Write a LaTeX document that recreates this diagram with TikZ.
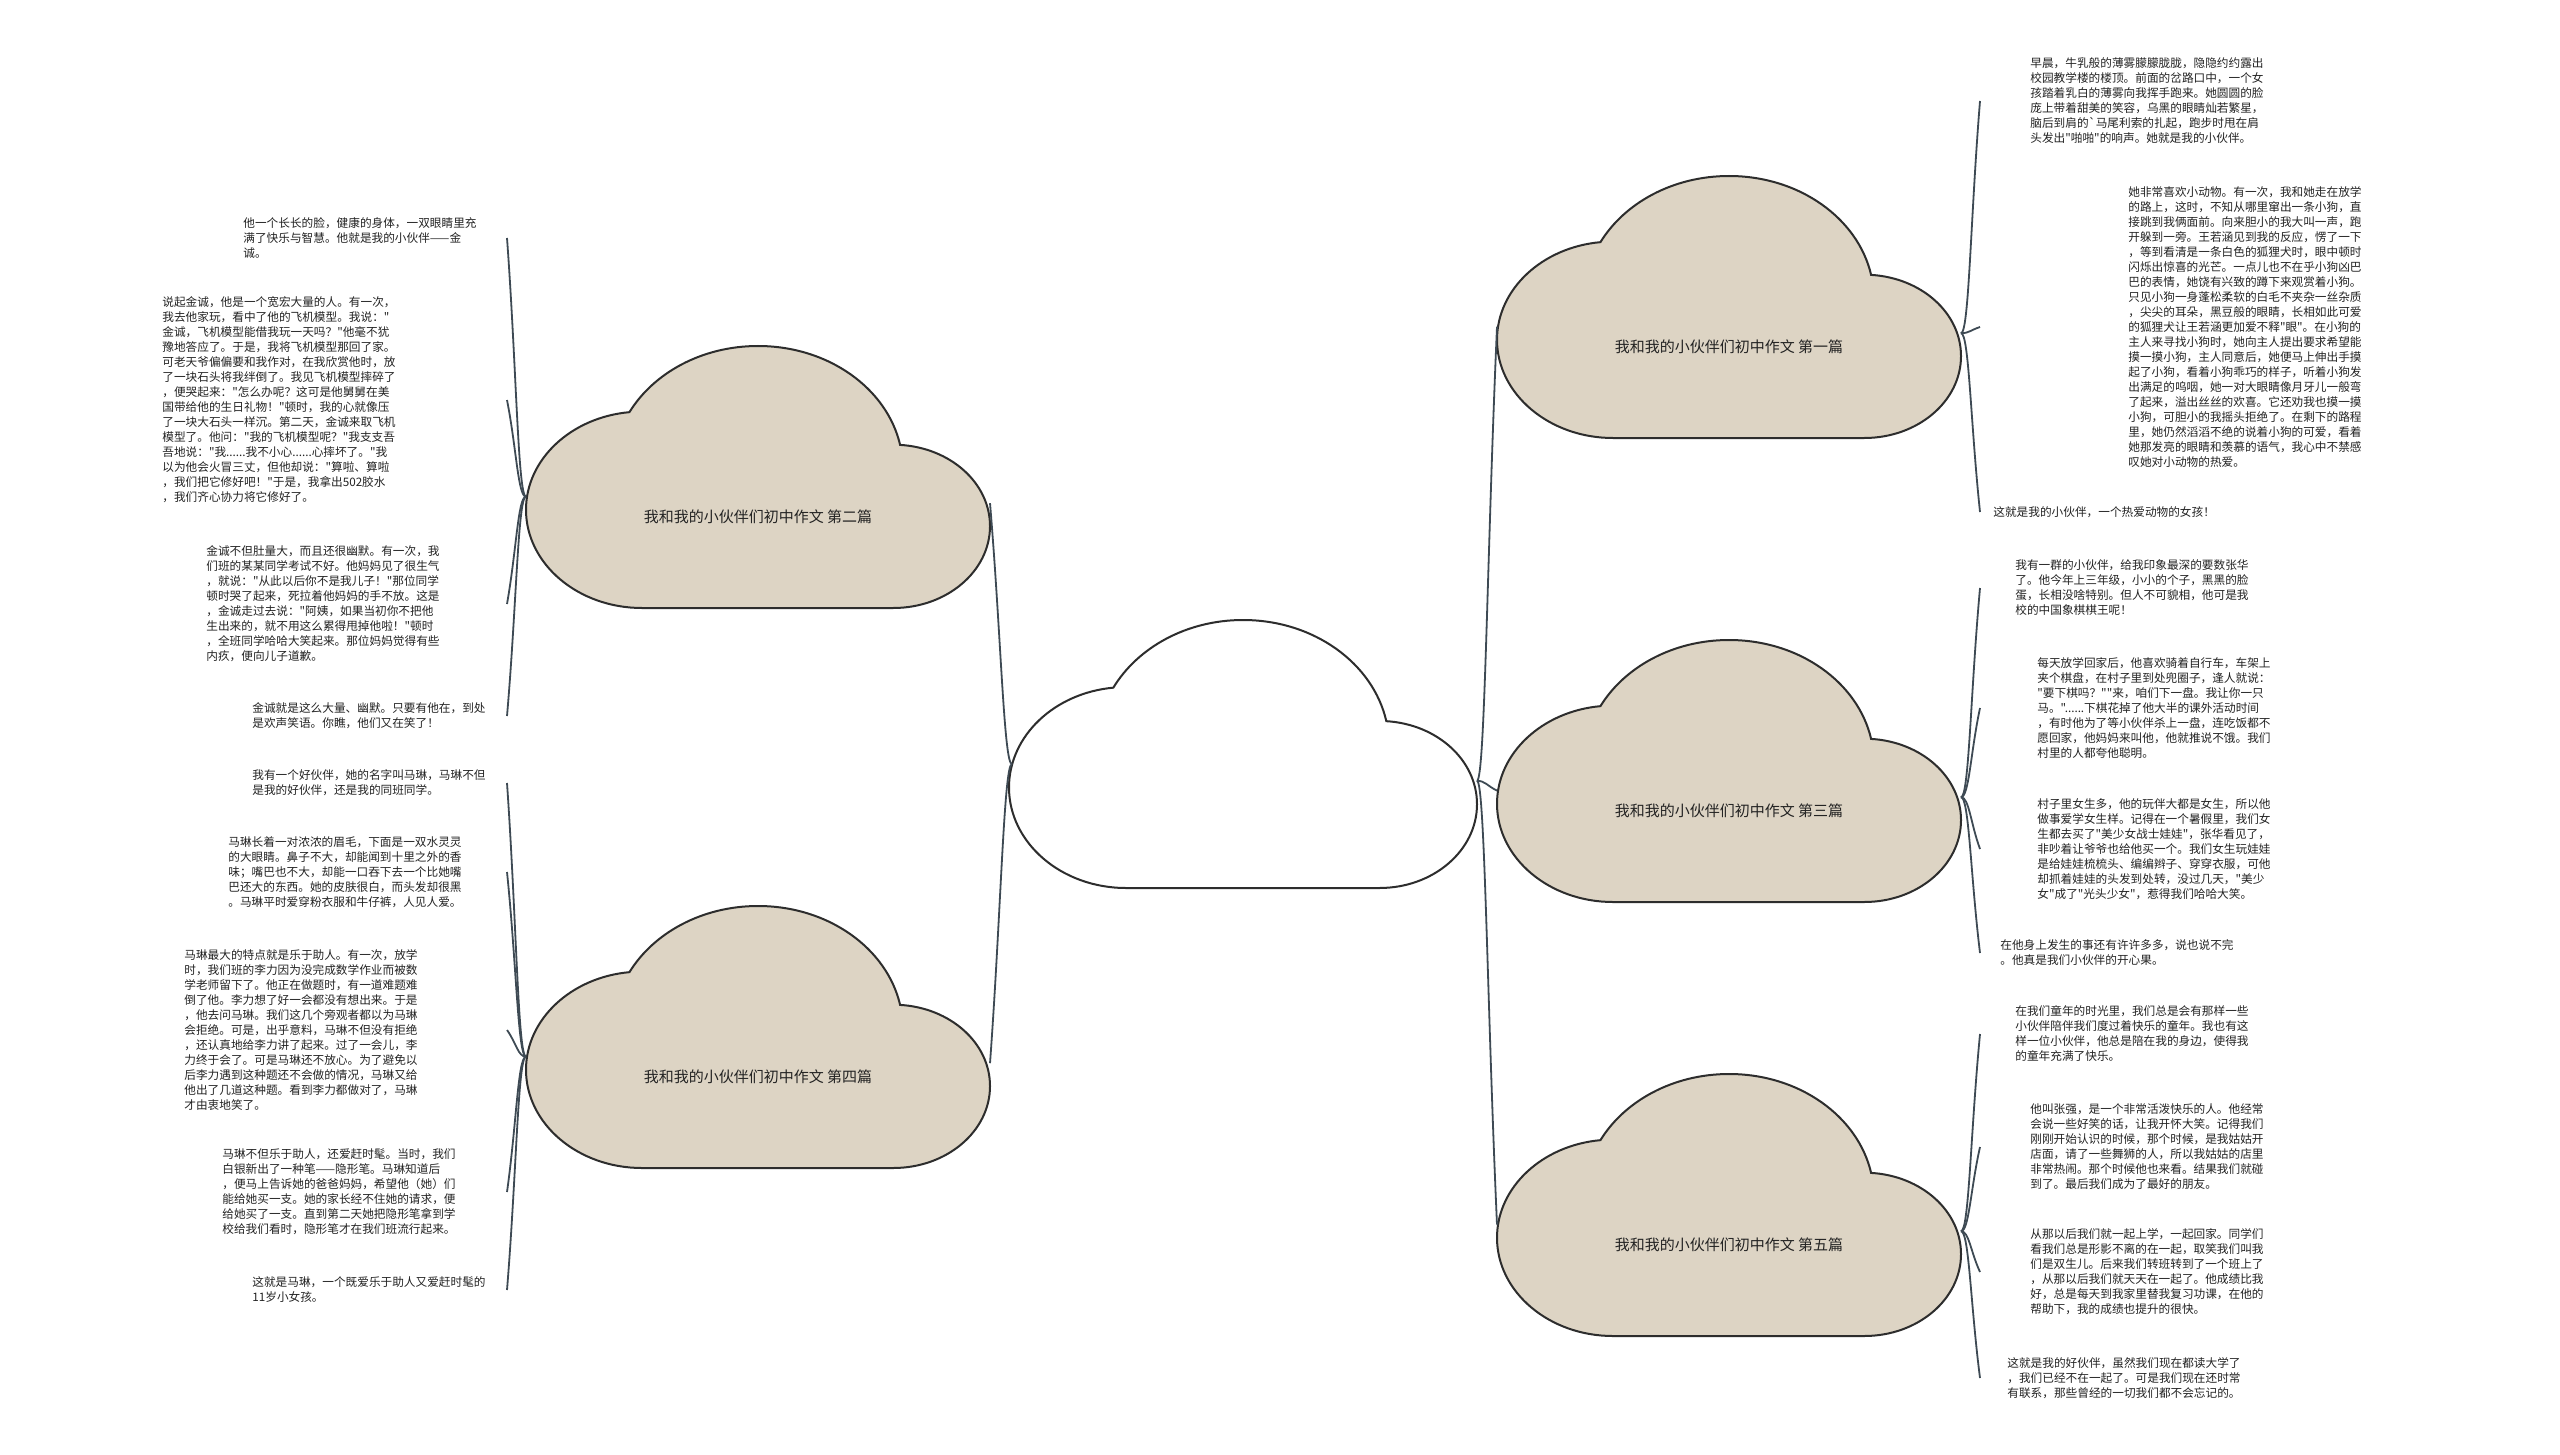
\documentclass[tikz,border=0pt]{standalone}
\usepackage{fontspec}
\newfontfamily\cjk{Noto Sans CJK SC}
\usetikzlibrary{calc}
\definecolor{cloudfill}{RGB}{221,212,196}
\definecolor{cloudline}{RGB}{45,45,45}
\definecolor{connc}{RGB}{62,74,84}
\definecolor{txtc}{RGB}{35,35,35}
\tikzset{
  txt/.style={font=\cjk\fontsize{5.83pt}{7.5pt}\selectfont, align=left, inner sep=0pt, anchor=west, text=txtc},
  lbl/.style={font=\cjk\fontsize{7.5pt}{9pt}\selectfont, inner sep=0pt, text=txtc},
  conn/.style={draw=connc, line width=0.9pt},
  secbox/.style={draw=cloudline, line width=1pt, fill=cloudfill},
  cenbox/.style={draw=cloudline, line width=1pt, fill=white},
  secscale/.style={x=9.6667pt, y=-8.1875pt},
  censcale/.style={x=9.75pt, y=-8.375pt},
}
\newcommand\cloudshape[1]{\path[#1] (19.35,6.04) .. controls (18.67,2.59) and (15.64,0) .. (12,0) .. controls (9.11,0) and (6.6,1.64) .. (5.35,4.04) .. controls (2.34,4.36) and (0,6.91) .. (0,10) .. controls (0,13.31) and (2.69,16) .. (6,16) -- (19,16) .. controls (21.76,16) and (24,13.76) .. (24,11) .. controls (24,8.36) and (21.95,6.22) .. (19.35,6.04) -- cycle;}
% #1 x0, #2 y0, #3 name, #4 label
\newcommand\seccloud[4]{%
  \begin{scope}[shift={(#1,#2)}, secscale]
    \cloudshape{secbox}
    \node[lbl] (#3) at (12,10.4) {#4};
    \coordinate (#3L) at (0,9.2);
    \coordinate (#3R) at (24,9.6);
  \end{scope}}
\newcommand\connL[2]{\draw[conn] (#2) .. controls ($(#2)!0.5!(#1)$) and ($(#1)+(-8,0)$) .. (#1);}
\newcommand\connR[2]{\draw[conn] (#2) .. controls ($(#2)!0.5!(#1)$) and ($(#1)+(8,0)$) .. (#1);}
\begin{document}
\begin{tikzpicture}[x=0.5pt,y=-0.5pt]
\useasboundingbox (0,0) rectangle (2560,1455);
\fill[white] (0,0) rectangle (2560,1455);

% centre cloud
\begin{scope}[shift={(1009,620)}, censcale]
  \cloudshape{cenbox}
  \coordinate (cenL) at (0.15,8.6);
  \coordinate (cenR) at (24,9.6);
\end{scope}
\node[inner sep=0pt] (cen) at (1243,755) {};

% section clouds
\seccloud{526}{346}{s2}{我和我的小伙伴们初中作文 第二篇}
\seccloud{526}{906}{s4}{我和我的小伙伴们初中作文 第四篇}
\seccloud{1497}{176}{s1}{我和我的小伙伴们初中作文 第一篇}
\seccloud{1497}{640}{s3}{我和我的小伙伴们初中作文 第三篇}
\seccloud{1497}{1074}{s5}{我和我的小伙伴们初中作文 第五篇}

% centre to sections
\connL{cenL}{s2R}
\connL{cenL}{s4R}
\connR{cenR}{s1L}
\connR{cenR}{s3L}
\connR{cenR}{s5L}

% left texts
\node[txt] (tL1) at (243,238) {他一个长长的脸，健康的身体，一双眼睛里充\\满了快乐与智慧。他就是我的小伙伴——金\\诚。};
\node[txt] (tL2) at (162,400) {说起金诚，他是一个宽宏大量的人。有一次，\\我去他家玩，看中了他的飞机模型。我说："\\金诚，飞机模型能借我玩一天吗？"他毫不犹\\豫地答应了。于是，我将飞机模型那回了家。\\可老天爷偏偏要和我作对，在我欣赏他时，放\\了一块石头将我绊倒了。我见飞机模型摔碎了\\，便哭起来："怎么办呢？这可是他舅舅在美\\国带给他的生日礼物！"顿时，我的心就像压\\了一块大石头一样沉。第二天，金诚来取飞机\\模型了。他问："我的飞机模型呢？"我支支吾\\吾地说："我......我不小心......心摔坏了。"我\\以为他会火冒三丈，但他却说："算啦、算啦\\，我们把它修好吧！"于是，我拿出502胶水\\，我们齐心协力将它修好了。};
\node[txt] (tL3) at (206,604) {金诚不但肚量大，而且还很幽默。有一次，我\\们班的某某同学考试不好。他妈妈见了很生气\\，就说："从此以后你不是我儿子！"那位同学\\顿时哭了起来，死拉着他妈妈的手不放。这是\\，金诚走过去说："阿姨，如果当初你不把他\\生出来的，就不用这么累得甩掉他啦！"顿时\\，全班同学哈哈大笑起来。那位妈妈觉得有些\\内疚，便向儿子道歉。};
\node[txt] (tL4) at (252,716) {金诚就是这么大量、幽默。只要有他在，到处\\是欢声笑语。你瞧，他们又在笑了！};
\node[txt] (tL5) at (252,783) {我有一个好伙伴，她的名字叫马琳，马琳不但\\是我的好伙伴，还是我的同班同学。};
\node[txt] (tL6) at (228,872) {马琳长着一对浓浓的眉毛，下面是一双水灵灵\\的大眼睛。鼻子不大，却能闻到十里之外的香\\味；嘴巴也不大，却能一口吞下去一个比她嘴\\巴还大的东西。她的皮肤很白，而头发却很黑\\。马琳平时爱穿粉衣服和牛仔裤，人见人爱。};
\node[txt] (tL7) at (184,1030) {马琳最大的特点就是乐于助人。有一次，放学\\时，我们班的李力因为没完成数学作业而被数\\学老师留下了。他正在做题时，有一道难题难\\倒了他。李力想了好一会都没有想出来。于是\\，他去问马琳。我们这几个旁观者都以为马琳\\会拒绝。可是，出乎意料，马琳不但没有拒绝\\，还认真地给李力讲了起来。过了一会儿，李\\力终于会了。可是马琳还不放心。为了避免以\\后李力遇到这种题还不会做的情况，马琳又给\\他出了几道这种题。看到李力都做对了，马琳\\才由衷地笑了。};
\node[txt] (tL8) at (222,1192) {马琳不但乐于助人，还爱赶时髦。当时，我们\\白银新出了一种笔——隐形笔。马琳知道后\\，便马上告诉她的爸爸妈妈，希望他（她）们\\能给她买一支。她的家长经不住她的请求，便\\给她买了一支。直到第二天她把隐形笔拿到学\\校给我们看时，隐形笔才在我们班流行起来。};
\node[txt] (tL9) at (252,1290) {这就是马琳，一个既爱乐于助人又爱赶时髦的\\11岁小女孩。};

% right texts
\node[txt] (tR1) at (2030,101) {早晨，牛乳般的薄雾朦朦胧胧，隐隐约约露出\\校园教学楼的楼顶。前面的岔路口中，一个女\\孩踏着乳白的薄雾向我挥手跑来。她圆圆的脸\\庞上带着甜美的笑容，乌黑的眼睛灿若繁星，\\脑后到肩的`马尾利索的扎起，跑步时甩在肩\\头发出"啪啪"的响声。她就是我的小伙伴。};
\node[txt] (tR2) at (2128,327) {她非常喜欢小动物。有一次，我和她走在放学\\的路上，这时，不知从哪里窜出一条小狗，直\\接跳到我俩面前。向来胆小的我大叫一声，跑\\开躲到一旁。王若涵见到我的反应，愣了一下\\，等到看清是一条白色的狐狸犬时，眼中顿时\\闪烁出惊喜的光芒。一点儿也不在乎小狗凶巴\\巴的表情，她饶有兴致的蹲下来观赏着小狗。\\只见小狗一身蓬松柔软的白毛不夹杂一丝杂质\\，尖尖的耳朵，黑豆般的眼睛，长相如此可爱\\的狐狸犬让王若涵更加爱不释"眼"。在小狗的\\主人来寻找小狗时，她向主人提出要求希望能\\摸一摸小狗，主人同意后，她便马上伸出手摸\\起了小狗，看着小狗乖巧的样子，听着小狗发\\出满足的呜咽，她一对大眼睛像月牙儿一般弯\\了起来，溢出丝丝的欢喜。它还劝我也摸一摸\\小狗，可胆小的我摇头拒绝了。在剩下的路程\\里，她仍然滔滔不绝的说着小狗的可爱，看着\\她那发亮的眼睛和羡慕的语气，我心中不禁感\\叹她对小动物的热爱。};
\node[txt] (tR3) at (1993,512) {这就是我的小伙伴，一个热爱动物的女孩！};
\node[txt] (tR4) at (2015,588) {我有一群的小伙伴，给我印象最深的要数张华\\了。他今年上三年级，小小的个子，黑黑的脸\\蛋，长相没啥特别。但人不可貌相，他可是我\\校的中国象棋棋王呢！};
\node[txt] (tR5) at (2037,708) {每天放学回家后，他喜欢骑着自行车，车架上\\夹个棋盘，在村子里到处兜圈子，逢人就说：\\"要下棋吗？""来，咱们下一盘。我让你一只\\马。"......下棋花掉了他大半的课外活动时间\\，有时他为了等小伙伴杀上一盘，连吃饭都不\\愿回家，他妈妈来叫他，他就推说不饿。我们\\村里的人都夸他聪明。};
\node[txt] (tR6) at (2037,849) {村子里女生多，他的玩伴大都是女生，所以他\\做事爱学女生样。记得在一个暑假里，我们女\\生都去买了"美少女战士娃娃"，张华看见了，\\非吵着让爷爷也给他买一个。我们女生玩娃娃\\是给娃娃梳梳头、编编辫子、穿穿衣服，可他\\却抓着娃娃的头发到处转，没过几天，"美少\\女"成了"光头少女"，惹得我们哈哈大笑。};
\node[txt] (tR7) at (2000,953) {在他身上发生的事还有许许多多，说也说不完\\。他真是我们小伙伴的开心果。};
\node[txt] (tR8) at (2015,1034) {在我们童年的时光里，我们总是会有那样一些\\小伙伴陪伴我们度过着快乐的童年。我也有这\\样一位小伙伴，他总是陪在我的身边，使得我\\的童年充满了快乐。};
\node[txt] (tR9) at (2030,1147) {他叫张强，是一个非常活泼快乐的人。他经常\\会说一些好笑的话，让我开怀大笑。记得我们\\刚刚开始认识的时候，那个时候，是我姑姑开\\店面，请了一些舞狮的人，所以我姑姑的店里\\非常热闹。那个时候他也来看。结果我们就碰\\到了。最后我们成为了最好的朋友。};
\node[txt] (tR10) at (2030,1272) {从那以后我们就一起上学，一起回家。同学们\\看我们总是形影不离的在一起，取笑我们叫我\\们是双生儿。后来我们转班转到了一个班上了\\，从那以后我们就天天在一起了。他成绩比我\\好，总是每天到我家里替我复习功课，在他的\\帮助下，我的成绩也提升的很快。};
\node[txt] (tR11) at (2007,1378) {这就是我的好伙伴，虽然我们现在都读大学了\\，我们已经不在一起了。可是我们现在还时常\\有联系，那些曾经的一切我们都不会忘记的。};

% connector ends
\foreach \n/\y in {L1/238,L2/400,L3/604,L4/716,L5/783,L6/872,L7/1030,L8/1192,L9/1290}
  \coordinate (e\n) at (507,\y);
\foreach \n/\y in {R1/101,R2/327,R3/512,R4/588,R5/708,R6/849,R7/953,R8/1034,R9/1147,R10/1272,R11/1378}
  \coordinate (e\n) at (1980,\y);

\foreach \n in {L1,L2,L3,L4} \connL{s2L}{e\n};
\foreach \n in {L5,L6,L7,L8,L9} \connL{s4L}{e\n};
\foreach \n in {R1,R2,R3} \connR{s1R}{e\n};
\foreach \n in {R4,R5,R6,R7} \connR{s3R}{e\n};
\foreach \n in {R8,R9,R10,R11} \connR{s5R}{e\n};
\end{tikzpicture}
\end{document}
